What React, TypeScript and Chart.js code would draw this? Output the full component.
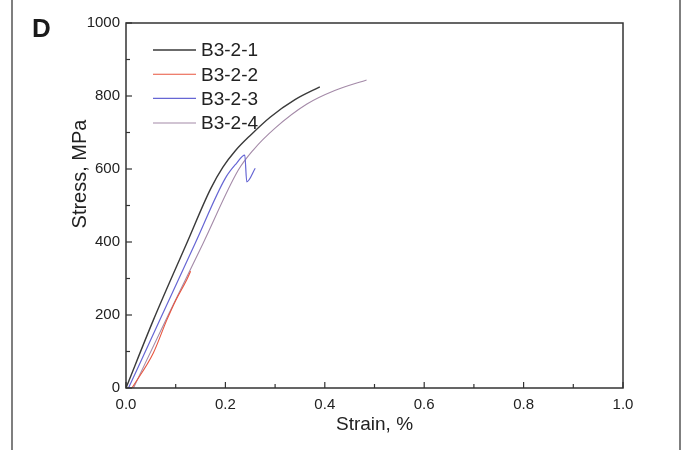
import { useEffect, useRef } from "react";
import { Chart, registerables } from "chart.js";

Chart.register(...registerables);

const seriesLabels = ["B3-2-1", "B3-2-2", "B3-2-3", "B3-2-4"];
const seriesColors = ["#3a3a3a", "#e8553e", "#6666d4", "#a48aa8"];
const seriesWidths = [1.4, 1.1, 1.2, 1.1];

const strain1 = [0, 0.055, 0.122, 0.17, 0.195, 0.22, 0.25, 0.29, 0.34, 0.39];
const stress1 = [0, 186, 396, 545, 605, 650, 692, 742, 790, 825];

const strain2 = [0.012, 0.055, 0.082, 0.1, 0.122, 0.13];
const stress2 = [0, 96, 186, 240, 296, 320];

const strain3 = [0.005, 0.068, 0.139, 0.2, 0.222, 0.239, 0.243, 0.26];
const stress3 = [0, 186, 396, 575, 615, 638, 565, 602];

const strain4 = [0.015, 0.085, 0.155, 0.226, 0.256, 0.3, 0.364, 0.42, 0.484];
const stress4 = [0, 200, 396, 597, 652, 712, 778, 815, 844];

const strainSeries = [strain1, strain2, strain3, strain4];
const stressSeries = [stress1, stress2, stress3, stress4];

const xMin = 0;
const xMax = 1;
const xStep = 0.2;
const yMin = 0;
const yMax = 1000;
const yStep = 200;

const xTitle = "Strain, %";
const yTitle = "Stress, MPa";
const panelLabel = "D";

const FONT = "'Liberation Sans', Arial, sans-serif";
const TEXT = "#222";

const decorPlugin = {
  id: "decor",
  afterDraw(chart: any) {
    const { ctx, chartArea } = chart;
    const { left, right, top, bottom } = chartArea;
    const xs = chart.scales.x;
    const ys = chart.scales.y;
    ctx.save();
    // frame
    ctx.strokeStyle = "#333";
    ctx.lineWidth = 1.5;
    ctx.strokeRect(left, top, right - left, bottom - top);
    // inward ticks
    ctx.lineWidth = 1.2;
    const xMinor = xStep / 2;
    for (let i = 0; i * xMinor <= xMax - xMin + 1e-9; i++) {
      const v = xMin + i * xMinor;
      const px = xs.getPixelForValue(v);
      const len = i % 2 === 0 ? 6 : 4;
      ctx.beginPath();
      ctx.moveTo(px, bottom);
      ctx.lineTo(px, bottom - len);
      ctx.stroke();
    }
    const yMinor = yStep / 2;
    for (let i = 0; i * yMinor <= yMax - yMin + 1e-9; i++) {
      const v = yMin + i * yMinor;
      const py = ys.getPixelForValue(v);
      const len = i % 2 === 0 ? 6 : 4;
      ctx.beginPath();
      ctx.moveTo(left, py);
      ctx.lineTo(left + len, py);
      ctx.stroke();
    }
    // legend
    const rowY = [50, 74.3, 98.4, 123];
    chart.data.datasets.forEach((ds: any, i: number) => {
      const y = rowY[i];
      ctx.strokeStyle = ds.borderColor;
      ctx.lineWidth = ds.borderWidth;
      ctx.beginPath();
      ctx.moveTo(153, y);
      ctx.lineTo(196, y);
      ctx.stroke();
      ctx.fillStyle = TEXT;
      ctx.font = `19px ${FONT}`;
      ctx.textAlign = "left";
      ctx.textBaseline = "middle";
      ctx.fillText(ds.label, 201, y + 1);
    });
    // axis titles
    ctx.fillStyle = TEXT;
    ctx.font = `19px ${FONT}`;
    ctx.textAlign = "center";
    ctx.textBaseline = "middle";
    ctx.fillText(xTitle, (left + right) / 2, 425);
    ctx.save();
    ctx.translate(80, 174);
    ctx.rotate(-Math.PI / 2);
    ctx.font = `20px ${FONT}`;
    ctx.fillText(yTitle, 0, 0);
    ctx.restore();
    // panel label
    ctx.font = `bold 26px ${FONT}`;
    ctx.textAlign = "left";
    ctx.textBaseline = "alphabetic";
    ctx.fillStyle = "#1a1a1a";
    ctx.fillText(panelLabel, 32, 37);
    // page side rules
    ctx.strokeStyle = "#555";
    ctx.lineWidth = 1.5;
    ctx.beginPath();
    ctx.moveTo(12, 0);
    ctx.lineTo(12, chart.height);
    ctx.moveTo(680, 0);
    ctx.lineTo(680, chart.height);
    ctx.stroke();
    ctx.restore();
  },
};

export default function App() {
  const ref = useRef<HTMLCanvasElement | null>(null);
  useEffect(() => {
    if (!ref.current) return;
    const datasets = seriesLabels.map((label, i) => ({
      label,
      data: strainSeries[i].map((x, j) => ({ x, y: stressSeries[i][j] })),
      borderColor: seriesColors[i],
      backgroundColor: seriesColors[i],
      borderWidth: seriesWidths[i],
      pointRadius: 0,
      fill: false,
      cubicInterpolationMode: "monotone" as const,
    }));
    const chart = new Chart(ref.current, {
      type: "line",
      data: { datasets },
      options: {
        animation: false,
        responsive: false,
        layout: { padding: { left: 0, right: 62, top: 23, bottom: 0 } },
        plugins: { legend: { display: false }, tooltip: { enabled: false } },
        scales: {
          x: {
            type: "linear",
            min: xMin,
            max: xMax,
            grid: { display: false, drawTicks: false },
            border: { display: false },
            ticks: {
              stepSize: xStep,
              autoSkip: false,
              maxRotation: 0,
              padding: 8,
              color: TEXT,
              font: { family: FONT, size: 15 },
              callback: (v: any) => Number(v).toFixed(1),
            },
            afterFit: (s: any) => {
              s.height = 62;
            },
          },
          y: {
            type: "linear",
            min: yMin,
            max: yMax,
            grid: { display: false, drawTicks: false },
            border: { display: false },
            ticks: {
              stepSize: yStep,
              autoSkip: false,
              padding: 6,
              color: TEXT,
              font: { family: FONT, size: 15 },
              callback: (v: any) => String(v),
            },
            afterFit: (s: any) => {
              s.width = 126;
            },
          },
        },
      },
      plugins: [decorPlugin],
    });
    return () => chart.destroy();
  }, []);
  return (
    <div style={{ position: "absolute", left: 0, top: 0, width: 685, height: 450, background: "#fff" }}>
      <canvas ref={ref} width={685} height={450} style={{ display: "block" }} />
    </div>
  );
}
